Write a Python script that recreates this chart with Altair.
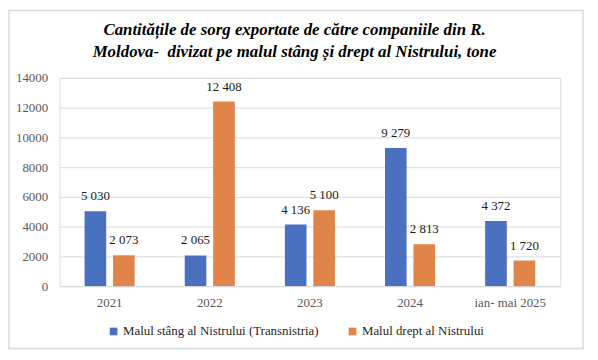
import altair as alt
import pandas as pd

categories = ["2021", "2022", "2023", "2024", "ian- mai 2025"]
left_bank = [5030, 2065, 4136, 9279, 4372]
right_bank = [2073, 12408, 5100, 2813, 1720]
series = ["Malul stâng al Nistrului (Transnistria)", "Malul drept al Nistrului"]
colors = ["#4A71C0", "#E0844A"]
title_lines = ["Cantitățile de sorg exportate de către companiile din R.",
               "Moldova-\u00a0 divizat pe malul stâng și drept al Nistrului, tone"]

def fmt(v):
    return f"{v:,}".replace(",", " ")

rows = []
for c, a, b in zip(categories, left_bank, right_bank):
    rows.append({"cat": c, "series": series[0], "value": a, "label": fmt(a)})
    rows.append({"cat": c, "series": series[1], "value": b, "label": fmt(b)})
df = pd.DataFrame(rows)

FONT = "Liberation Serif, Times New Roman, serif"
W, H = 505, 210
PL, PT = 52, 69

x = alt.X("cat:N", sort=categories, title=None,
          scale=alt.Scale(paddingInner=0.5, paddingOuter=0.25),
          axis=alt.Axis(labelAngle=0, ticks=False, domain=True, domainColor="#d9d9d9",
                        labelFont=FONT, labelFontSize=13, labelColor="#595959",
                        labelPadding=11))
xoff = alt.XOffset("series:N", sort=series, scale=alt.Scale(paddingInner=0.24))
y = alt.Y("value:Q", title=None,
          scale=alt.Scale(domain=[0, 14000]),
          axis=alt.Axis(values=list(range(0, 14001, 2000)), format="d", ticks=False, domain=False,
                        gridColor="#d9d9d9", labelFont=FONT, labelFontSize=13,
                        labelColor="#595959", labelPadding=12, labelOverlap=False))
color = alt.Color("series:N", sort=series, scale=alt.Scale(domain=series, range=colors),
                  legend=alt.Legend(title=None, orient="none", legendX=48, legendY=249,
                                    direction="horizontal", symbolType="square",
                                    symbolSize=60, symbolStrokeWidth=0,
                                    labelFont=FONT, labelFontSize=13, labelColor="#262626",
                                    labelLimit=400, columnPadding=27, labelOffset=3))

base = alt.Chart(df)
bars = base.mark_bar().encode(x=x, xOffset=xoff, y=y, color=color)
labels = base.mark_text(dy=-8, baseline="bottom", font=FONT, fontSize=13, color="#1a1a1a").encode(
    x=x, xOffset=xoff, y=y, text="label:N")

one = pd.DataFrame({"a": [0]})
frame = alt.Chart(one).mark_rect(
    filled=False, stroke="#d9d9d9", strokeWidth=1.5, clip=False).encode(
    x=alt.value(-PL + 1), x2=alt.value(580 - PL),
    y=alt.value(-PT + 1), y2=alt.value(342 - PT))

title_layers = []
for i, line in enumerate(title_lines):
    title_layers.append(
        alt.Chart(one).mark_text(font=FONT, fontSize=17, fontStyle="italic", fontWeight="bold",
                                 color="#000000", align="center", baseline="alphabetic",
                                 clip=False).encode(
            x=alt.value(289 - PL), y=alt.value(26 - PT + 21.5 * i), text=alt.value(line)))

chart = alt.layer(bars, labels, frame, *title_layers).properties(
    width=W, height=H,
    padding={"left": PL, "top": PT, "right": 30, "bottom": 70},
    autosize=alt.AutoSizeParams(type="none"),
).configure_view(stroke=None).configure_legend(labelFont=FONT).configure(background="white")

chart.save("out.html", embed_options={"renderer": "svg", "actions": False})
